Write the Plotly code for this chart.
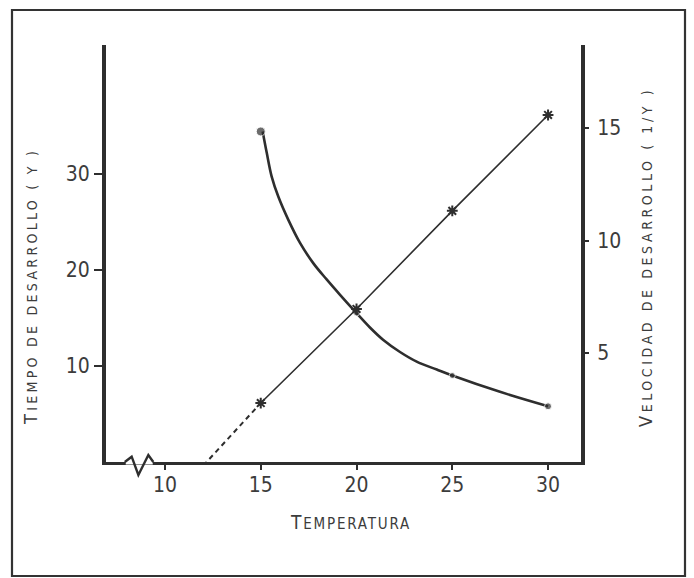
import plotly.graph_objects as go

# ---- data ----
temperatura = [15, 20, 25, 30]
tiempo = [34.4, 15.5, 9.0, 5.8]          # Tiempo de desarrollo (Y), left axis
velocidad = [2.78, 6.96, 11.32, 15.58]   # Velocidad de desarrollo (1/Y), right axis

# points read along the drawn smooth curve of Y
curva_x = [15.1, 15.31, 15.57, 15.92, 16.44, 17.05, 17.74, 18.44, 19.14, 20.0,
           20.70, 21.40, 22.27, 23.14, 24.19, 25.0, 27.49, 30.0]
curva_y = [34.4, 32.2, 29.7, 27.6, 25.2, 22.8, 20.7, 19.0, 17.4, 15.5,
           14.0, 12.7, 11.45, 10.45, 9.62, 9.0, 7.3, 5.8]

# dashed extrapolation of velocity down to the threshold temperature
umbral_x = [12.0, 15]
umbral_y = [0.0, 2.78]

x_ticks = [10, 15, 20, 25, 30]
y_ticks = [10, 20, 30]
y2_ticks = [5, 10, 15]

INK = "#2e2e2e"
TXT = "#3c3c3c"
TICKFONT = dict(family="DejaVu Sans Condensed, Liberation Sans Narrow, sans-serif", size=21, color=TXT)
TITLEFAM = "DejaVu Sans Condensed, Liberation Sans Narrow, sans-serif"

fig = go.Figure()

fig.add_trace(go.Scatter(x=curva_x, y=curva_y, mode="lines",
                         line=dict(color=INK, width=2.6, shape="spline", smoothing=1.0),
                         hoverinfo="skip", showlegend=False))
fig.add_trace(go.Scatter(x=temperatura, y=tiempo, mode="markers",
                         marker=dict(color=INK, size=[9, 6, 6, 7], symbol="circle"),
                         showlegend=False))
fig.add_trace(go.Scatter(x=temperatura, y=velocidad, mode="lines+markers", yaxis="y2",
                         line=dict(color=INK, width=1.6),
                         marker=dict(color=INK, size=9, symbol="asterisk-open", line=dict(width=2, color=INK)),
                         showlegend=False))
fig.add_trace(go.Scatter(x=umbral_x, y=umbral_y, mode="lines", yaxis="y2",
                         line=dict(color=INK, width=2, dash="5px,4px"),
                         showlegend=False))

L, R, T, B = 106, 113, 45, 116
W, H = 694, 578
pw, ph = W - L - R, H - T - B

def px(xp):
    return (xp - L) / pw

def py(yp):
    return (H - B - yp) / ph

shapes = [
    # outer frame
    dict(type="rect", xref="paper", yref="paper", x0=px(12), x1=px(685), y0=py(576), y1=py(10),
         line=dict(color="#333333", width=2.2), layer="above"),
    # hide axis under the break
    dict(type="line", xref="x", yref="paper", x0=7.95, x1=9.36, y0=0, y1=0,
         line=dict(color="white", width=5), layer="above"),
    # axis break zigzag
    dict(type="path", xref="x", yref="paper",
         path=f"M 7.90,0 L 8.26,{py(456.7)} L 8.61,{py(475)} L 9.13,{py(455)} L 9.39,0",
         line=dict(color=INK, width=2.4), layer="above"),
]

def sc(big, small, bs, ss, sp):
    return (f"<span style='font-size:{bs}px;letter-spacing:{sp}px'>{big}</span>"
            f"<span style='font-size:{ss}px;letter-spacing:{sp}px'>{small}</span>")

annotations = [
    dict(text=sc("T", "IEMPO DE DESARROLLO ( Y )", 18, 14, 3.3), xref="paper", yref="paper",
         x=px(30), y=py(287), textangle=-90, showarrow=False,
         font=dict(family=TITLEFAM, color=TXT), xanchor="center", yanchor="middle"),
    dict(text=sc("V", "ELOCIDAD DE DESARROLLO ( 1/Y )", 18, 14, 3.6), xref="paper", yref="paper",
         x=px(645), y=py(257), textangle=-90, showarrow=False,
         font=dict(family=TITLEFAM, color=TXT), xanchor="center", yanchor="middle"),
    dict(text=sc("T", "EMPERATURA", 19, 15, 1.8), xref="paper", yref="paper",
         x=px(350), y=py(522), showarrow=False,
         font=dict(family=TITLEFAM, color=TXT), xanchor="center", yanchor="middle"),
]

fig.update_layout(
    width=W, height=H,
    margin=dict(l=L, r=R, t=T, b=B, pad=0),
    paper_bgcolor="white", plot_bgcolor="white",
    showlegend=False,
    shapes=shapes, annotations=annotations,
    xaxis=dict(range=[6.92, 31.72], tickvals=x_ticks, ticks="outside", ticklen=5, tickwidth=2,
               tickcolor=INK, showline=True, linecolor=INK, linewidth=3, showgrid=False,
               zeroline=False, tickfont=TICKFONT, ticklabelstandoff=-3),
    yaxis=dict(range=[0, 43.4], tickvals=y_ticks, ticks="outside", ticklen=8, tickwidth=2,
               tickcolor=INK, showline=True, linecolor=INK, linewidth=4, showgrid=False,
               zeroline=False, tickfont=TICKFONT),
    yaxis2=dict(range=[0.16, 18.69], tickvals=y2_ticks, overlaying="y", side="right",
                ticks="outside", ticklen=4, tickwidth=2, tickcolor=INK, showline=True,
                linecolor=INK, linewidth=4, showgrid=False, zeroline=False, tickfont=TICKFONT,
                ticklabelstandoff=4),
)

fig.write_html("out.html", config={"displayModeBar": False},
               post_script="document.body.style.margin='0';document.body.style.overflow='hidden';")
